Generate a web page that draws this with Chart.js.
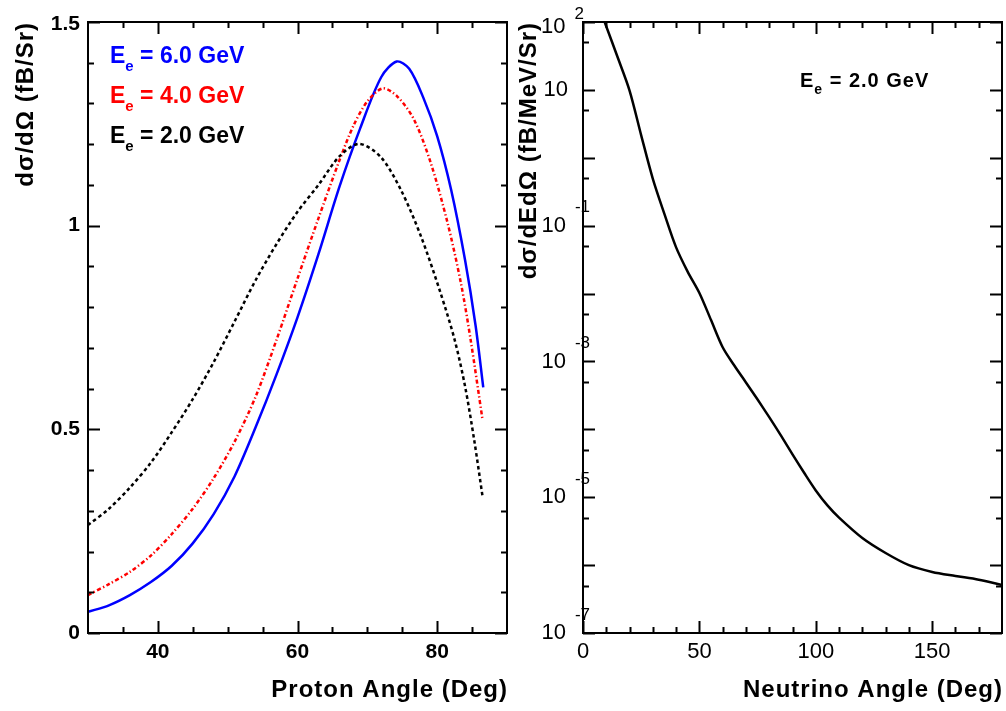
<!DOCTYPE html>
<html>
<head>
<meta charset="utf-8">
<script src="https://cdn.jsdelivr.net/npm/chart.js@4.4.1/dist/chart.umd.min.js"></script>
<style>
  html, body { margin: 0; padding: 0; background: #fff; }
  #wrap { position: relative; width: 1006px; height: 711px; overflow: hidden; }
  #proton { position: absolute; left: 0; top: 0; }
  #neutrino { position: absolute; left: 512px; top: 0; }
</style>
</head>
<body>
<div id="wrap">
  <canvas id="proton" width="512" height="711"></canvas>
  <canvas id="neutrino" width="494" height="711"></canvas>
</div>
<script>
// proton angular distribution, one curve per beam energy
const angles6 = [30, 33, 36, 39, 42, 45, 48, 51, 54, 57, 60, 63, 66, 69, 72, 74.2, 76, 78, 80, 82, 84, 85.5, 86.6];
const sigma6 = [0.052, 0.068, 0.093, 0.125, 0.165, 0.22, 0.292, 0.385, 0.505, 0.635, 0.775, 0.93, 1.095, 1.24, 1.365, 1.403, 1.385, 1.315, 1.22, 1.088, 0.915, 0.755, 0.603];

const angles4 = [30, 33, 36, 39, 42, 45, 48, 51, 54, 57, 60, 63, 66, 68, 70, 72.2, 74.3, 76.7, 79.1, 81.5, 83.4, 84.8, 86.5];
const sigma4 = [0.093, 0.12, 0.15, 0.19, 0.243, 0.305, 0.38, 0.47, 0.58, 0.72, 0.87, 1.018, 1.16, 1.245, 1.305, 1.337, 1.317, 1.26, 1.153, 1.006, 0.859, 0.719, 0.523];

const angles2 = [30, 33, 36, 39, 42, 45, 48, 51, 54, 57, 60, 63, 66, 68.8, 71.9, 74.8, 77.7, 80.5, 82.5, 84, 85.3, 86.5];
const sigma2 = [0.265, 0.305, 0.357, 0.418, 0.493, 0.574, 0.665, 0.765, 0.866, 0.955, 1.034, 1.1, 1.17, 1.201, 1.169, 1.088, 0.973, 0.834, 0.72, 0.605, 0.474, 0.335];

// neutrino angular distribution at 2 GeV
const nuAngles = [9.3, 15, 20, 25, 30, 35, 40, 45, 50, 55, 60, 65, 70, 75, 80, 85, 90, 95, 100, 105, 110, 120, 130, 140, 150, 160, 170, 180];
const nuSigma = [100, 29.5, 9.77, 2.14, 0.49, 0.148, 0.0479, 0.0209, 0.0102, 0.00407, 0.00162, 8.71e-4, 4.9e-4, 2.75e-4, 1.51e-4, 8.13e-5, 4.27e-5, 2.29e-5, 1.26e-5, 7.59e-6, 5.01e-6, 2.51e-6, 1.51e-6, 1.0e-6, 7.94e-7, 6.92e-7, 6.1e-7, 5.1e-7];

// tick positions
const protonMajorX = [40, 60, 80];
const protonMinorX = [35, 45, 50, 55, 65, 70, 75, 85];
const protonMajorY = [0, 0.5, 1, 1.5];
const protonMinorY = [0.1, 0.2, 0.3, 0.4, 0.6, 0.7, 0.8, 0.9, 1.1, 1.2, 1.3, 1.4];
const protonLabelsX = ["40", "60", "80"];
const protonLabelsY = ["0", "0.5", "1", "1.5"];

const nuMajorX = [0, 50, 100, 150];
const nuMinorX = [10, 20, 30, 40, 60, 70, 80, 90, 110, 120, 130, 140, 160, 170];
const nuLabelsX = ["0", "50", "100", "150"];
const nuExponents = [-7, -6, -5, -4, -3, -2, -1, 0, 1, 2];
const nuLabelledExp = [-7, -5, -3, -1, 1, 2];

const FONT = '"Liberation Sans", Arial, Helvetica, sans-serif';

function pts(xs, ys) {
  return xs.map((x, i) => ({ x: x, y: ys[i] }));
}

// ROOT-like frame: box plus inward ticks on all four sides
const frameTicks = {
  id: "frameTicks",
  afterDatasetsDraw(chart, args, opts) {
    const { ctx, chartArea: a, scales } = chart;
    const sx = scales.x, sy = scales.y;
    ctx.save();
    ctx.strokeStyle = "#000";
    ctx.lineWidth = 2;
    ctx.beginPath();
    const tickX = (vals, len) => vals.forEach((v) => {
      const p = Math.round(sx.getPixelForValue(v)) + 0.5;
      ctx.moveTo(p, a.bottom); ctx.lineTo(p, a.bottom - len);
      ctx.moveTo(p, a.top); ctx.lineTo(p, a.top + len);
    });
    const tickY = (vals, len) => vals.forEach((v) => {
      const p = Math.round(sy.getPixelForValue(v)) + 0.5;
      ctx.moveTo(a.left, p); ctx.lineTo(a.left + len, p);
      ctx.moveTo(a.right, p); ctx.lineTo(a.right - len, p);
    });
    tickX(opts.majorX, 12);
    tickX(opts.minorX, 6);
    tickY(opts.majorY, 12);
    tickY(opts.minorY, 6);
    ctx.stroke();
    ctx.strokeRect(a.left, a.top, a.right - a.left, a.bottom - a.top);
    ctx.restore();
  }
};

function subscriptLabel(ctx, x, y, size, subSize, color, rest, spacing) {
  ctx.save();
  ctx.fillStyle = color;
  ctx.textBaseline = "alphabetic";
  ctx.textAlign = "left";
  ctx.letterSpacing = spacing + "px";
  ctx.font = "bold " + size + "px " + FONT;
  ctx.fillText("E", x, y);
  let cx = x + ctx.measureText("E").width;
  ctx.font = "bold " + subSize + "px " + FONT;
  ctx.fillText("e", cx, y + size * 0.36);
  cx += ctx.measureText("e").width;
  ctx.font = "bold " + size + "px " + FONT;
  ctx.fillText(rest, cx, y);
  ctx.restore();
}

function rotatedTitle(ctx, text, x, yTop, font) {
  ctx.save();
  ctx.translate(x, yTop);
  ctx.rotate(-Math.PI / 2);
  ctx.font = font;
  ctx.letterSpacing = "1px";
  ctx.fillStyle = "#000";
  ctx.textAlign = "right";
  ctx.textBaseline = "middle";
  ctx.fillText(text, 0, 0);
  ctx.restore();
}

const protonText = {
  id: "protonText",
  afterDraw(chart) {
    const { ctx, chartArea: a, scales } = chart;
    ctx.save();
    ctx.fillStyle = "#000";
    ctx.font = "bold 21px " + FONT;
    ctx.textBaseline = "middle";
    ctx.textAlign = "right";
    protonMajorY.forEach((v, i) => {
      const p = Math.min(Math.max(scales.y.getPixelForValue(v), a.top + 2), a.bottom + 2);
      ctx.fillText(protonLabelsY[i], a.left - 8, p);
    });
    ctx.textAlign = "center";
    protonMajorX.forEach((v, i) => {
      ctx.fillText(protonLabelsX[i], scales.x.getPixelForValue(v), a.bottom + 19);
    });
    ctx.textAlign = "right";
    ctx.font = "bold 24px " + FONT;
    ctx.letterSpacing = "1px";
    ctx.fillText("Proton Angle (Deg)", a.right + 1, a.bottom + 57);
    ctx.restore();
    rotatedTitle(ctx, "d\u03c3/d\u03a9 (fB/Sr)", 26, a.top, "bold 24px " + FONT);

    subscriptLabel(ctx, 110, 63, 23, 15, "#0000ff", " = 6.0 GeV", 0);
    subscriptLabel(ctx, 110, 103, 23, 15, "#ff0000", " = 4.0 GeV", 0);
    subscriptLabel(ctx, 110, 143, 23, 15, "#000000", " = 2.0 GeV", 0);
  }
};

const nuText = {
  id: "nuText",
  afterDraw(chart) {
    const { ctx, chartArea: a, scales } = chart;
    ctx.save();
    ctx.fillStyle = "#000";
    ctx.textBaseline = "middle";
    ctx.font = "22px " + FONT;
    ctx.textAlign = "center";
    nuMajorX.forEach((v, i) => {
      ctx.fillText(nuLabelsX[i], scales.x.getPixelForValue(v), a.bottom + 19);
    });
    // decade labels written as 10 with a raised exponent
    nuLabelledExp.forEach((e) => {
      let p = scales.y.getPixelForValue(Math.pow(10, e));
      p = Math.max(p, a.top + 5);
      ctx.font = "22px " + FONT;
      ctx.textAlign = "right";
      if (e === 1) {
        ctx.fillText("10", a.left - 15, p);
        return;
      }
      const sup = e < 0 ? "-" + (-e) : String(e);
      ctx.font = "17px " + FONT;
      const supW = ctx.measureText(sup).width;
      const supRight = a.left + (e < 0 ? 7 : 1);
      ctx.fillText(sup, supRight, p - (e < 0 ? 18 : 13));
      ctx.font = "22px " + FONT;
      ctx.fillText("10", supRight - supW - 9, p);
    });
    ctx.textAlign = "right";
    ctx.font = "bold 24px " + FONT;
    ctx.letterSpacing = "1px";
    ctx.fillText("Neutrino Angle (Deg)", a.right + 1, a.bottom + 57);
    ctx.restore();
    rotatedTitle(ctx, "d\u03c3/dEd\u03a9 (fB/MeV/Sr)", 17, a.top, "bold 24px " + FONT);
    subscriptLabel(ctx, 288, 87, 20, 14, "#000000", " = 2.0 GeV", 1);
  }
};

const baseLine = { fill: false, pointRadius: 0, borderWidth: 2.5, tension: 0.3 };

new Chart(document.getElementById("proton"), {
  type: "line",
  data: {
    datasets: [
      Object.assign({ label: "Ee = 2.0 GeV", data: pts(angles2, sigma2), borderColor: "#000000", borderDash: [3.5, 3] }, baseLine),
      Object.assign({ label: "Ee = 4.0 GeV", data: pts(angles4, sigma4), borderColor: "#ff0000", borderDash: [4, 2.5, 1.3, 2.5] }, baseLine),
      Object.assign({ label: "Ee = 6.0 GeV", data: pts(angles6, sigma6), borderColor: "#0000ff" }, baseLine)
    ]
  },
  options: {
    responsive: false,
    animation: false,
    layout: { padding: { left: 88, top: 22, right: 5, bottom: 78 } },
    scales: {
      x: { type: "linear", min: 30, max: 90, display: false },
      y: { type: "linear", min: 0, max: 1.5, display: false }
    },
    plugins: {
      legend: { display: false },
      tooltip: { enabled: false },
      frameTicks: { majorX: protonMajorX, minorX: protonMinorX, majorY: protonMajorY, minorY: protonMinorY }
    }
  },
  plugins: [frameTicks, protonText]
});

const nuMinorY = nuExponents.slice(0, -1).map((e) => 5 * Math.pow(10, e));

new Chart(document.getElementById("neutrino"), {
  type: "line",
  data: {
    datasets: [
      Object.assign({ label: "Ee = 2.0 GeV", data: pts(nuAngles, nuSigma), borderColor: "#000000" }, baseLine)
    ]
  },
  options: {
    responsive: false,
    animation: false,
    layout: { padding: { left: 71, top: 22, right: 4, bottom: 78 } },
    scales: {
      x: { type: "linear", min: 0, max: 180, display: false },
      y: { type: "logarithmic", min: 1e-7, max: 100, display: false }
    },
    plugins: {
      legend: { display: false },
      tooltip: { enabled: false },
      frameTicks: { majorX: nuMajorX, minorX: nuMinorX, majorY: nuExponents.map((e) => Math.pow(10, e)), minorY: nuMinorY }
    }
  },
  plugins: [frameTicks, nuText]
});
</script>
</body>
</html>
